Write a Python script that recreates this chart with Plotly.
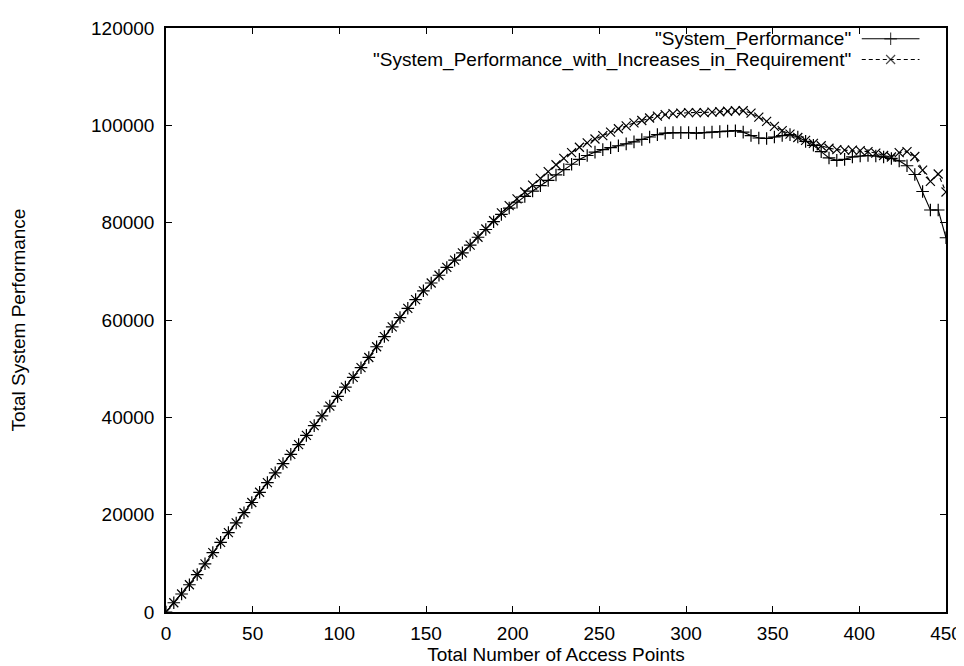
import plotly.graph_objects as go

# Access point counts (x)
access_points = [
    0, 4.5, 9, 13.5, 18, 22.5, 27, 31.5, 36, 40.5,
    45, 49.5, 54, 58.5, 63, 67.5, 72, 76.5, 81, 85.5,
    90, 94.5, 99, 103.5, 108, 112.5, 117, 121.5, 126, 130.5,
    135, 139.5, 144, 148.5, 153, 157.5, 162, 166.5, 171, 175.5,
    180, 184.5, 189, 193.5, 198, 202.5, 207, 211.5, 216, 220.5,
    225, 229.5, 234, 238.5, 243, 247.5, 252, 256.5, 261, 265.5,
    270, 274.5, 279, 283.5, 288, 292.5, 297, 301.5, 306, 310.5,
    315, 319.5, 324, 328.5, 333, 337.5, 342, 346.5, 351, 355.5,
    360, 364.5, 369, 373.5, 378, 382.5, 387, 391.5, 396, 400.5,
    405, 409.5, 414, 418.5, 423, 427.5, 432, 436.5, 441, 445.5,
    450,
]

system_performance = [
    0, 1900, 3700, 5600, 7700, 9900, 12200, 14300, 16300, 18300,
    20400, 22500, 24600, 26600, 28600, 30500, 32400, 34400, 36300, 38300,
    40300, 42300, 44300, 46200, 48200, 50200, 52300, 54500, 56600, 58600,
    60500, 62400, 64200, 66000, 67600, 69200, 70800, 72300, 73800, 75400,
    77000, 78600, 80200, 81700, 83000, 84200, 85400, 86500, 87600, 88700,
    89800, 90900, 92000, 93000, 93800, 94500, 95000, 95400, 95800, 96200,
    96600, 97100, 97600, 98100, 98400, 98500, 98500, 98500, 98400, 98500,
    98600, 98700, 98800, 98900, 98600, 97900, 97400, 97300, 97600, 97900,
    98100, 97600, 96700, 95900, 94600, 93300, 92800, 93000, 93500, 93700,
    93800, 93700, 93500, 93200, 92700, 91700, 89900, 86400, 82600, 82600,
    76900,
]

system_performance_increases = [
    0, 1900, 3700, 5600, 7700, 9900, 12200, 14300, 16300, 18300,
    20400, 22500, 24600, 26600, 28600, 30500, 32400, 34400, 36300, 38300,
    40300, 42300, 44300, 46200, 48200, 50200, 52300, 54500, 56600, 58600,
    60500, 62400, 64200, 66000, 67600, 69200, 70800, 72300, 73800, 75400,
    77000, 78700, 80400, 82000, 83500, 84900, 86300, 87700, 89100, 90500,
    91900, 93200, 94400, 95500, 96400, 97200, 97900, 98600, 99300, 99900,
    100500, 101000, 101500, 101900, 102200, 102400, 102500, 102600, 102600, 102600,
    102700, 102800, 102900, 103000, 103000, 102500, 101700, 100800, 99800, 98900,
    98200, 97500, 96900, 96300, 95800, 95300, 95000, 94900, 94900, 94800,
    94600, 94300, 93800, 93500, 94400, 94600, 93600, 90800, 88500, 90000,
    86300,
]

series_names = [
    '"System_Performance"',
    '"System_Performance_with_Increases_in_Requirement"',
]

x_ticks = [0, 50, 100, 150, 200, 250, 300, 350, 400, 450]
y_ticks = [0, 20000, 40000, 60000, 80000, 100000, 120000]

FONT = "Liberation Sans, Arial, Helvetica, sans-serif"
FS = 19

fig = go.Figure()

fig.add_trace(go.Scatter(
    x=access_points, y=system_performance, mode="lines+markers",
    line=dict(color="black", width=1.1),
    marker=dict(symbol="cross-thin", size=9, line=dict(color="black", width=1.2)),
    showlegend=False,
))
fig.add_trace(go.Scatter(
    x=access_points, y=system_performance_increases, mode="lines+markers",
    line=dict(color="black", width=1.1, dash="4px,3px"),
    marker=dict(symbol="x-thin", size=9, line=dict(color="black", width=1.2)),
    showlegend=False,
))

# gnuplot-style key: right-aligned text with the sample on its right
key_rows = [0.9815, 0.946]
key_styles = [("solid", "cross-thin"), ("4px,3px", "x-thin")]
for name, yk, (dash, sym) in zip(series_names, key_rows, key_styles):
    fig.add_annotation(
        x=0.881, y=yk, xref="paper", yref="paper", text=name,
        showarrow=False, xanchor="right", yanchor="middle",
        font=dict(family=FONT, size=FS, color="black"),
    )
    fig.add_trace(go.Scatter(
        x=[0.892, 0.929, 0.966], y=[yk, yk, yk], xaxis="x2", yaxis="y2",
        mode="lines+markers",
        line=dict(color="black", width=1.1, dash=dash),
        marker=dict(symbol=sym, size=[0, 9, 0], line=dict(color="black", width=1.2)),
        showlegend=False, hoverinfo="skip",
    ))

axis_common = dict(
    showline=True, linecolor="black", linewidth=1.5, mirror="ticks",
    ticks="inside", ticklen=6, tickwidth=1.2, tickcolor="black",
    showgrid=False, zeroline=False,
    tickfont=dict(family=FONT, size=FS, color="black"),
)

fig.update_layout(
    width=964, height=666,
    margin=dict(l=150, r=19, t=10, b=62),
    paper_bgcolor="white", plot_bgcolor="white",
    font=dict(family=FONT, size=FS, color="black"),
    xaxis=dict(range=[0, 450], tickvals=x_ticks, ticktext=[str(v) for v in x_ticks],
               ticklabelstandoff=3,
               title=dict(text="Total Number of Access Points", standoff=0,
                          font=dict(family=FONT, size=FS)), **axis_common),
    yaxis=dict(range=[0, 120000], tickvals=y_ticks, ticktext=[str(v) for v in y_ticks],
               ticklabelstandoff=6,
               title=dict(text="Total System Performance", standoff=60,
                          font=dict(family=FONT, size=FS)), **axis_common),
    xaxis2=dict(range=[0, 1], overlaying="x", visible=False),
    yaxis2=dict(range=[0, 1], overlaying="y", visible=False),
)

fig.write_html("out.html")
